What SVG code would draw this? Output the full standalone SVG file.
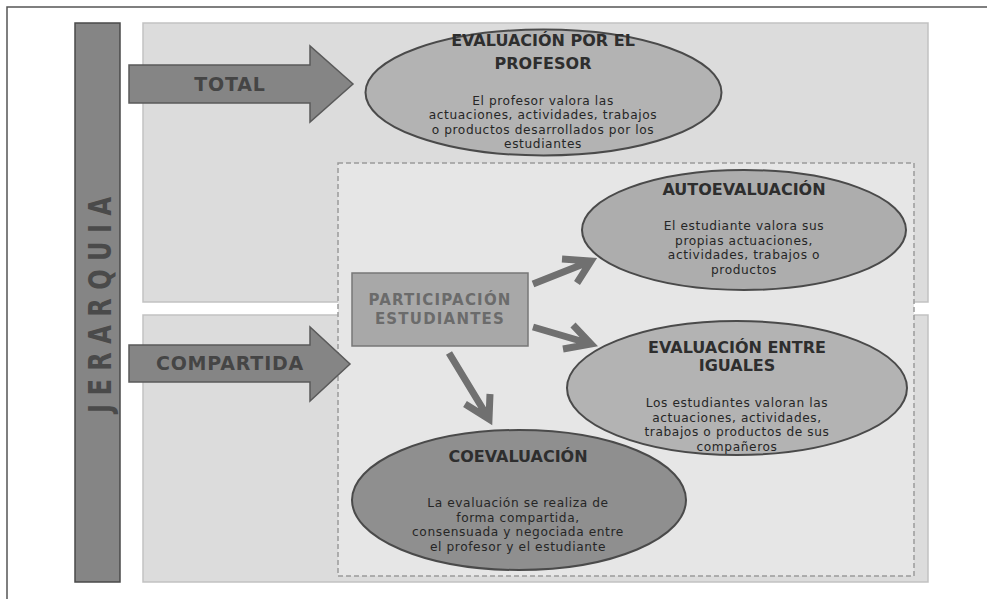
<svg xmlns="http://www.w3.org/2000/svg" width="987" height="599" viewBox="0 0 987 599">
<style>
.frame{fill:none;stroke:#555;stroke-width:1.5}
.panel{fill:#dcdcdc;stroke:#c2c2c2;stroke-width:1.5}
.dash{fill:#e6e6e6;stroke:#9a9a9a;stroke-width:1.5;stroke-dasharray:5 3}
.bigarrow{fill:#858585;stroke:#5a5a5a;stroke-width:1.5}
.arlbl{font-family:"DejaVu Sans",Verdana,sans-serif;font-weight:bold;font-size:19px;fill:#454545;text-anchor:middle;letter-spacing:0.8px}
.ell{stroke:#4a4a4a;stroke-width:2}
.title{font-family:"DejaVu Sans",Verdana,sans-serif;font-weight:bold;font-size:16px;fill:#2e2e2e;text-anchor:middle}
.body{font-family:"DejaVu Sans",Verdana,sans-serif;font-size:12.2px;letter-spacing:0.6px;fill:#262626;text-anchor:middle}
.conn{fill:none;stroke:#707070;stroke-width:7;stroke-linejoin:miter}
.boxtxt{font-family:"DejaVu Sans",Verdana,sans-serif;font-weight:bold;font-size:15px;letter-spacing:1.2px;fill:#6b6b6b;text-anchor:middle}
</style>
<rect width="987" height="599" fill="#fff"/>
<path class="frame" d="M7 599 V7 H987"/>
<g id="panels">
<rect class="panel" x="143" y="23" width="785" height="279"/>
<rect class="panel" x="143" y="315" width="785" height="267"/>
<rect class="dash" x="338" y="163" width="576" height="413"/>
</g>
<g id="jerarquia">
<rect x="75" y="23" width="45" height="559" fill="#858585" stroke="#4a4a4a" stroke-width="1.5"/>
<text transform="translate(111,413) rotate(-90) scale(1,1.35)" x="0" y="0" font-family="DejaVu Sans,Verdana,sans-serif" font-weight="bold" font-size="24" fill="#4a4a4a" textLength="216" lengthAdjust="spacing">JERARQUIA</text>
</g>
<g id="total">
<path class="bigarrow" d="M129 65 H310 V46 L353 84 L310 122 V103 H129 Z"/>
<text class="arlbl" x="230" y="91">TOTAL</text>
</g>
<g id="compartida">
<path class="bigarrow" d="M129 345 H310 V327 L350 364 L310 401 V382 H129 Z"/>
<text class="arlbl" x="230" y="370">COMPARTIDA</text>
</g>
<g id="profesor">
<ellipse class="ell" cx="543.5" cy="92.5" rx="178" ry="63" fill="#b3b3b3"/>
<text class="title" x="543" y="45.5">EVALUACIÓN POR EL</text>
<text class="title" x="543" y="68.5">PROFESOR</text>
<text class="body" x="543" y="104.5">El profesor valora las</text>
<text class="body" x="543" y="119">actuaciones, actividades, trabajos</text>
<text class="body" x="543" y="133.5">o productos desarrollados por los</text>
<text class="body" x="543" y="148">estudiantes</text>
</g>
<g id="autoevaluacion">
<ellipse class="ell" cx="744" cy="230" rx="162" ry="60" fill="#adadad"/>
<text class="title" x="744" y="194.5">AUTOEVALUACIÓN</text>
<text class="body" x="744" y="230">El estudiante valora sus</text>
<text class="body" x="744" y="244.5">propias actuaciones,</text>
<text class="body" x="744" y="259">actividades, trabajos o</text>
<text class="body" x="744" y="273.5">productos</text>
</g>
<g id="coevaluacion">
<ellipse class="ell" cx="519" cy="500" rx="167" ry="70" fill="#8f8f8f"/>
<text class="title" x="518" y="461.5">COEVALUACIÓN</text>
<text class="body" x="518" y="507">La evaluación se realiza de</text>
<text class="body" x="518" y="521.5">forma compartida,</text>
<text class="body" x="518" y="536">consensuada y negociada entre</text>
<text class="body" x="518" y="550.5">el profesor y el estudiante</text>
</g>
<g id="iguales">
<ellipse class="ell" cx="737" cy="388" rx="170" ry="67" fill="#b3b3b3"/>
<text class="title" x="737" y="352.5">EVALUACIÓN ENTRE</text>
<text class="title" x="737" y="370.5">IGUALES</text>
<text class="body" x="737" y="407">Los estudiantes valoran  las</text>
<text class="body" x="737" y="421.5">actuaciones, actividades,</text>
<text class="body" x="737" y="436">trabajos o productos de sus</text>
<text class="body" x="737" y="450.5">compañeros</text>
</g>
<g id="participacion">
<rect x="352" y="273" width="176" height="73" fill="#a8a8a8" stroke="#777" stroke-width="1.5"/>
<text class="boxtxt" x="440" y="305">PARTICIPACIÓN</text>
<text class="boxtxt" x="440" y="323.5">ESTUDIANTES</text>
</g>
<g id="connectors">
<path class="conn" d="M533 284 L591 261 M562 259 L591 261 L577 283"/>
<path class="conn" d="M533 327 L591 344 M573 325 L591 344 L563 349"/>
<path class="conn" d="M449 353 L489 419 M465 404 L489 419 L490 394"/>
</g>
</svg>
